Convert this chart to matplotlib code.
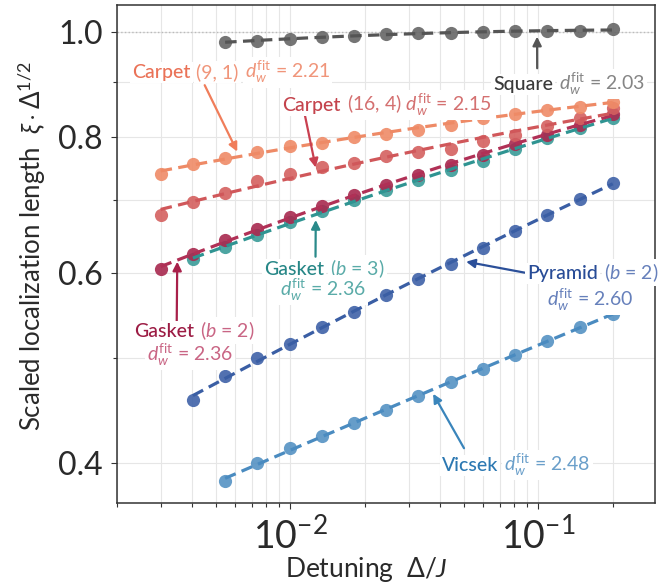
import numpy as np
import matplotlib
matplotlib.use("Agg")
import matplotlib.pyplot as plt
from matplotlib.ticker import FixedLocator, FormatStrFormatter, NullFormatter
from matplotlib.transforms import offset_copy

plt.rcParams['font.family'] = ['Lato', 'DejaVu Sans']
plt.rcParams['mathtext.fontset'] = 'custom'
plt.rcParams['mathtext.rm'] = 'Lato'
plt.rcParams['mathtext.it'] = 'Lato:italic'
plt.rcParams['mathtext.bf'] = 'Lato:bold'

# detuning values (log spaced)
delta = [0.00300, 0.00405, 0.00546, 0.00737, 0.00994, 0.0134, 0.0181, 0.0244,
         0.0329, 0.0444, 0.0599, 0.0808, 0.109, 0.147, 0.200]

# scaled localization length for each lattice
square = [0.979, 0.9825, 0.9867, 0.9903, 0.993, 0.9958, 0.9979, 0.9994,
          1.0009, 1.002, 1.003, 1.004, 1.0064]
carpet91 = [0.740, 0.7555, 0.766, 0.776, 0.786, 0.791, 0.800, 0.806, 0.813,
            0.822, 0.834, 0.841, 0.848, 0.854, 0.863]
carpet164 = [0.678, 0.6965, 0.711, 0.7285, 0.740, 0.751, 0.758, 0.768, 0.775,
             0.780, 0.793, 0.804, 0.820, 0.834, 0.851]
gasket3 = [0.6173, 0.6341, 0.650, 0.6675, 0.6833, 0.6995, 0.7145, 0.730,
           0.7466, 0.761, 0.780, 0.799, 0.816, 0.834]
gasket2 = [0.6045, 0.6243, 0.6424, 0.6588, 0.675, 0.6916, 0.708, 0.723, 0.739,
           0.7546, 0.771, 0.789, 0.804, 0.822, 0.841]
pyramid = [0.4575, 0.4816, 0.5001, 0.5158, 0.534, 0.5522, 0.5723, 0.5918,
           0.6114, 0.632, 0.6559, 0.6785, 0.7015, 0.7258]
vicsek = [0.3855, 0.400, 0.4127, 0.4238, 0.4355, 0.448, 0.4616, 0.4753, 0.489,
          0.5036, 0.5183, 0.534, 0.5495]

# (values, start index in delta, marker colour, line colour)
series = [
    (vicsek, 2, '#5592c3', '#4a8bc0'),
    (pyramid, 1, '#3f62a8', '#3a5ea4'),
    (gasket3, 1, '#3a9b98', '#2f9492'),
    (gasket2, 0, '#a8294f', '#b03056'),
    (carpet164, 0, '#d4605f', '#d0575a'),
    (carpet91, 0, '#ef8b67', '#ee8a66'),
    (square, 2, '#666666', '#555555'),
]

fig = plt.figure(figsize=(6.64, 5.87), dpi=100)
ax = fig.add_axes([117/664, 1-503/587, 538/664, 498/587])
ax.set_xscale('log')
ax.set_yscale('log')

ax.axhline(1.0, color='#bbbbbb', lw=1, ls=':', zorder=1)

for vals, i0, mc, lc in series:
    x = np.array(delta[i0:i0+len(vals)])
    y = np.array(vals)
    ax.plot(x, y, 'o', ms=9.5, color=mc, alpha=0.9, mec='none', zorder=3)
    # quadratic fit in log-log space
    p = np.polyfit(np.log(x), np.log(y), 2)
    xf = np.geomspace(x[0], x[-1], 200)
    ax.plot(xf, np.exp(np.polyval(p, np.log(xf))), color=lc, lw=2.3,
            ls=(0, (3.6, 2.0)), zorder=4)

ax.set_xlim(0.002, 0.296)
ax.set_ylim(0.3675, 1.06)
ax.yaxis.set_major_locator(FixedLocator([0.4, 0.6, 0.8, 1.0]))
ax.yaxis.set_minor_locator(FixedLocator([0.5, 0.7, 0.9]))
ax.yaxis.set_major_formatter(FormatStrFormatter('%.1f'))
ax.yaxis.set_minor_formatter(NullFormatter())

ax.grid(True, which='both', color='#e6e6e6', lw=0.8, zorder=0)
ax.set_axisbelow(True)
for s in ax.spines.values():
    s.set_color('#333333')
    s.set_linewidth(1.1)
ax.tick_params(which='both', direction='out', color='#333333', width=0.8)
ax.tick_params(which='major', length=4, pad=6)
ax.tick_params(axis='y', which='major', labelsize=23, labelcolor='#2a2a2a')
ax.tick_params(axis='x', which='major', labelsize=27, labelcolor='#2a2a2a')
ax.tick_params(which='minor', length=3)

ax.set_xlabel(r'Detuning  $\Delta/J$', fontsize=19, color='#2a2a2a')
ax.set_ylabel(r'Scaled localization length  $\xi \cdot \Delta^{1/2}$', fontsize=18.5,
              color='#2a2a2a')
ax.xaxis.set_label_coords(0.463, -0.105)
ax.yaxis.set_label_coords(-0.128, 0.516)

fig.canvas.draw()
rend = fig.canvas.get_renderer()
box = dict(facecolor='white', edgecolor='none', pad=1.5)


def row(x, y, parts, size=14):
    # coloured text pieces placed one after another on a common baseline
    dx = 0
    for s, c, w in parts:
        tr = offset_copy(ax.transAxes, fig=fig, x=dx, y=0, units='dots')
        t = ax.text(x, y, s, transform=tr, color=c, fontsize=size, fontweight=w,
                    ha='left', va='baseline', bbox=box, zorder=6)
        dx += t.get_window_extent(rend).width + 6


def arrow(start, tip, c):
    ax.annotate('', xy=tip, xycoords='data', xytext=start, textcoords='axes fraction',
                arrowprops=dict(arrowstyle='-|>', color=c, lw=1.6, mutation_scale=13,
                                shrinkA=0, shrinkB=0), zorder=5)


dfit = r'$d_w^{\mathrm{fit}}$'

arrow((0.163, 0.839), (0.00611, 0.776), '#f07d5a')
row(0.028, 0.853, [('Carpet', '#ea7257', 'medium'), ('(9, 1)', '#f0957a', 'normal'),
                   (dfit + ' = 2.21', '#f0957a', 'normal')])

arrow((0.349, 0.780), (0.01267, 0.750), '#c94050')
row(0.307, 0.787, [('Carpet', '#c4434c', 'medium'), ('(16, 4) ' + dfit + ' = 2.15', '#d47070', 'normal')])

arrow((0.781, 0.873), (0.099, 0.991), '#555555')
row(0.699, 0.829, [('Square', '#3a3a3a', 'medium'), (dfit + ' = 2.03', '#858585', 'normal')])

arrow((0.369, 0.4946), (0.01267, 0.671), '#2a8a8a')
row(0.273, 0.458, [('Gasket', '#278787', 'medium'), ('($b$ = 3)', '#5aaba8', 'normal')])
row(0.303, 0.416, [(dfit + ' = 2.36', '#5aaba8', 'normal')])

arrow((0.758, 0.4625), (0.0512, 0.614), '#2b4f99')
row(0.762, 0.450, [('Pyramid', '#284c97', 'medium'), ('($b$ = 2)', '#6680bb', 'normal')])
row(0.799, 0.396, [(dfit + ' = 2.60', '#6680bb', 'normal')])

arrow((0.111, 0.3614), (0.0035, 0.614), '#a8204a')
row(0.032, 0.333, [('Gasket', '#9c1c44', 'medium'), ('($b$ = 2)', '#c96584', 'normal')])
row(0.056, 0.285, [(dfit + ' = 2.36', '#c96584', 'normal')])

arrow((0.645, 0.110), (0.0377, 0.4636), '#3a85bb')
row(0.604, 0.064, [('Vicsek', '#2c78b2', 'medium'), (dfit + ' = 2.48', '#6a9fca', 'normal')])

fig.savefig('out.png', dpi=100)
